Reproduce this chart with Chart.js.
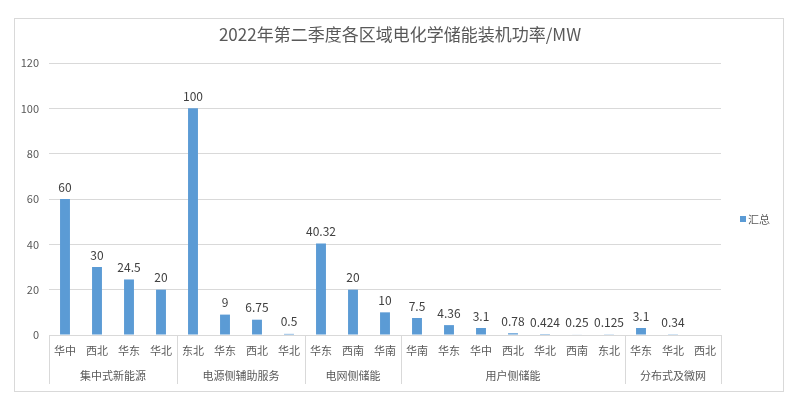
<!DOCTYPE html>
<html><head><meta charset="utf-8">
<script src="https://cdn.jsdelivr.net/npm/chart.js@4/dist/chart.umd.min.js"></script>
<style>html,body{margin:0;padding:0;background:#fff;}#wrap{width:800px;height:399px;position:relative;}</style>
</head><body><div id="wrap"><canvas id="c" width="800" height="399"></canvas></div>
<script>
const categories = ['华中','西北','华东','华北','东北','华东','西北','华北','华东','西南','华南','华南','华东','华中','西北','华北','西南','东北','华东','华北','西北'];
const values = [60,30,24.5,20,100,9,6.75,0.5,40.32,20,10,7.5,4.36,3.1,0.78,0.424,0.25,0.125,3.1,0.34,null];
const groupNames = ['集中式新能源','电源侧辅助服务','电网侧储能','用户侧储能','分布式及微网'];
const groupSizes = [4,4,3,7,3];
const seriesName = '汇总';
const titleText = '2022年第二季度各区域电化学储能装机功率/MW';
const yTicks = [0,20,40,60,80,100,120];

const FONT = '"Liberation Sans Narrow","Noto Sans CJK SC",sans-serif';
const GRAY = '#595959';
const BAR = '#5B9BD5';

const frame = {
  id:'frame',
  beforeDraw(chart){
    const c = chart.ctx; c.save();
    c.fillStyle='#fff'; c.fillRect(0,0,chart.width,chart.height);
    c.strokeStyle='#d9d9d9'; c.lineWidth=1;
    c.strokeRect(14.5,18.5,769,373);
    c.fillStyle=GRAY; c.font='17px '+FONT; c.textAlign='center'; c.textBaseline='middle';
    c.fillText(titleText, chart.width/2, 35);
    c.restore();
  }
};
const groups = {
  id:'groups',
  afterDraw(chart){
    const c = chart.ctx, x = chart.scales.x, area = chart.chartArea;
    c.save();
    c.strokeStyle='#d9d9d9'; c.lineWidth=1;
    c.fillStyle=GRAY; c.font='11px '+FONT; c.textAlign='center'; c.textBaseline='middle';
    let start = 0;
    const half = (x.getPixelForValue(1)-x.getPixelForValue(0))/2;
    const edge = i => x.getPixelForValue(i) - half;
    for (let g=0; g<groupSizes.length; g++){
      const end = start + groupSizes[g];
      const l = edge(start), r = edge(end);
      [l,r].forEach(px=>{ c.beginPath(); c.moveTo(Math.round(px)+0.5, area.bottom); c.lineTo(Math.round(px)+0.5, area.bottom+49); c.stroke(); });
      c.fillText(groupNames[g], (l+r)/2, area.bottom+41);
      start = end;
    }
    // legend
    const ds = chart.data.datasets[0];
    c.fillStyle = BAR; c.fillRect(740, 216, 6, 6);
    c.fillStyle = GRAY; c.textAlign='left'; c.fillText(ds.label, 748, 219.5);
    c.restore();
  }
};
const dataLabels = {
  id:'dataLabels',
  afterDatasetsDraw(chart){
    const c = chart.ctx; c.save();
    c.fillStyle='#404040'; c.font='12px '+FONT; c.textAlign='center'; c.textBaseline='bottom';
    const meta = chart.getDatasetMeta(0);
    meta.data.forEach((bar,i)=>{
      const v = chart.data.datasets[0].data[i];
      if (v===null || v===undefined) return;
      c.fillText(String(v), bar.x, bar.y - 6);
    });
    c.restore();
  }
};

new Chart(document.getElementById('c'), {
  type:'bar',
  data:{ labels:categories, datasets:[{ label:seriesName, data:values, backgroundColor:BAR, barPercentage:0.31, categoryPercentage:1 }]},
  options:{
    responsive:false, animation:false,
    layout:{ padding:{ left:14, right:79, top:63, bottom:8 } },
    plugins:{
      legend:{ display:false },
      tooltip:{ enabled:false },
      title:{ display:false }
    },
    scales:{
      x:{
        grid:{ display:false, drawTicks:false },
        border:{ display:false },
        ticks:{ color:GRAY, font:{ family:FONT, size:11 }, padding:9, maxRotation:0, autoSkip:false },
        afterFit(s){ s.height = 56; }
      },
      y:{
        min:0, max:120,
        afterBuildTicks(s){ s.ticks = yTicks.map(v=>({value:v})); },
        grid:{ color:'#d9d9d9', drawTicks:false },
        border:{ display:false },
        ticks:{ color:GRAY, font:{ family:FONT, size:11 }, padding:10 },
        afterFit(s){ s.width = 35; }
      }
    }
  },
  plugins:[frame, groups, dataLabels]
});
</script></body></html>
